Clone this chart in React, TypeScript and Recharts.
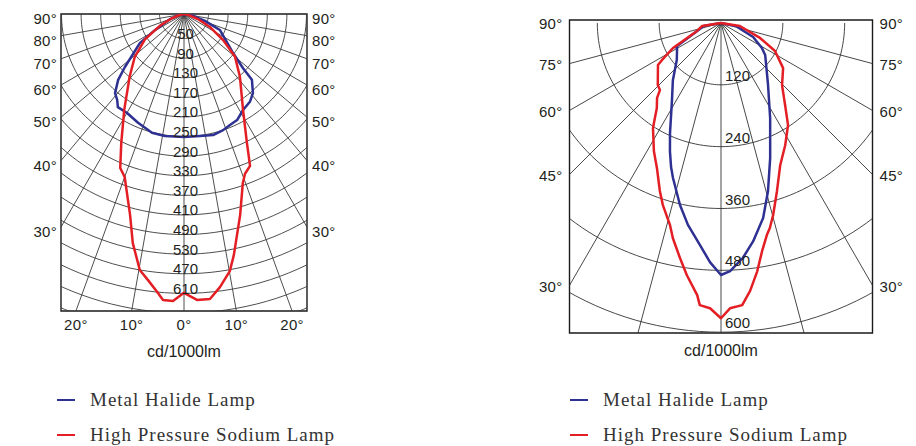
import React from 'react';
import { ComposedChart, Line, Scatter, XAxis, YAxis, ReferenceArea, Legend } from 'recharts';

// ---------------- data ----------------
const LAMP_NAMES = ['Metal Halide Lamp', 'High Pressure Sodium Lamp'];
const MH_COLOR = '#2E3192';
const HPS_COLOR = '#E31E24';

// Left diagram (angle from nadir in degrees, negative = left; intensity in cd/1000lm)
const leftMhAngles = [-90, -78, -70, -61, -56.6, -48.1, -45, -41.1, -37.9, -35.4, -29.9, -22.9, -15.1, -8.9, 0, 7.5, 13.5, 18.6, 22.5, 26.6, 31.6, 36.9, 41.1, 45.9, 47.5, 51.5, 58, 66, 72, 80, 90];
const leftMhValues = [0, 10, 30, 68, 108, 162, 190, 214, 222, 233, 233, 241, 251, 252, 251, 251, 254, 250, 245, 242, 230, 224, 214, 193, 163, 128, 100, 80, 45, 15, 0];
const leftHpsAngles = [-90, -78, -70, -64, -57, -49, -41, -32, -26, -22.5, -20, -17.7, -15, -12.6, -9.8, -7.7, -5.5, -4.2, -2.2, 0, 2.6, 5.2, 7.5, 10.1, 11.7, 15.6, 19.2, 20.9, 23.5, 26, 31.6, 41.6, 50, 56.3, 63.4, 70, 78, 90];
const leftHpsValues = [0, 10, 28, 55, 95, 133, 169, 230, 292, 340, 354, 383, 425, 479, 530, 548, 570, 585, 586, 569, 584, 584, 562, 533, 502, 426, 365, 349, 338, 293, 230, 172, 136, 96, 59, 30, 10, 0];
const leftArcValues = [50, 90, 130, 170, 210, 250, 290, 330, 370, 410, 450, 490, 530, 570, 610, 650];
const leftArcLabels = ['50', '90', '130', '170', '210', '250', '290', '330', '370', '410', '490', '530', '470', '610'];
const leftRayAngles = [-80, -70, -60, -50, -40, -30, -20, -10, 0, 10, 20, 30, 40, 50, 60, 70, 80];
const leftSideTickAngles = [90, 80, 70, 60, 50, 40, 30];
const leftBottomTickAngles = [-20, -10, 0, 10, 20];

// Right diagram
const rightMhAngles = [-90, -80, -71.6, -62, -60.4, -50, -40.1, -32.5, -24.9, -21.7, -19.1, -17.2, -12.7, -9.3, -5.4, -2.6, 0, 2.1, 5.3, 8.4, 12.2, 15.6, 20, 27.3, 37.2, 54, 58.6, 66.4, 78, 90];
const rightMhValues = [0, 34, 48, 100, 98, 112, 145, 177, 235, 268, 296, 315, 362, 397, 433, 465, 489, 482, 458, 428, 387, 339, 279, 208, 151, 106, 93, 68, 30, 0];
const rightHpsAngles = [-90, -81, -71.6, -62.5, -57.9, -56.3, -45.5, -42.3, -40.5, -37, -34.8, -32.9, -27.6, -23.8, -20, -17.7, -14.2, -12.6, -9.9, -7.7, -5, -4.3, -2.2, 0, 1.8, 4.3, 6.2, 8.3, 10.2, 12.2, 13.4, 15.2, 18.4, 22.6, 27.7, 33.3, 38, 44.5, 54, 62.6, 69, 81, 90];
const rightHpsValues = [0, 37, 49, 105, 135, 147, 172, 176, 191, 207, 225, 243, 281, 308, 347, 371, 404, 428, 463, 494, 530, 549, 554, 573, 554, 549, 523, 487, 450, 421, 409, 386, 344, 299, 268, 237, 202, 169, 149, 118, 81, 37, 0];
const rightArcValues = [120, 240, 360, 480, 600];
const rightArcLabels = ['120', '240', '360', '480', '600'];
const rightRayAngles = [-75, -60, -45, -30, -15, 0, 15, 30, 45, 60, 75];
const rightSideTickAngles = [90, 75, 60, 45, 30];

const UNIT_LABEL = 'cd/1000lm';

// ---------------- helpers ----------------
const RAD = Math.PI / 180;
const toXY = (deg: number, v: number) => ({ x: v * Math.sin(deg * RAD), y: -v * Math.cos(deg * RAD) });
const curve = (angles: number[], values: number[]) => angles.map((a, i) => toXY(a, values[i]));
const arcPoints = (v: number) => {
  const pts: { x: number; y: number }[] = [];
  for (let a = -90; a <= 90; a += 2) pts.push(toXY(a, v));
  return pts;
};
const rayPoints = (deg: number) => [toXY(deg, 0), toXY(deg, 2000)];

const SANS = "'Liberation Sans', Arimo, Arial, sans-serif";
const SERIF = "'Liberation Serif', 'Times New Roman', serif";
const TEXT_COLOR = '#231F20';

type Cfg = {
  left: number;
  width: number;
  height: number;
  margin: { top: number; right: number; bottom: number; left: number };
  leftAxisWidth: number;
  rightAxisWidth: number;
  xAxisHeight: number;
  xDomain: [number, number];
  yDomain: [number, number];
  arcValues: number[];
  arcLabels: string[];
  arcAnchor: 'middle' | 'start';
  arcDx: number;
  arcDy: number;
  rayAngles: number[];
  sideTickAngles: number[];
  sideDy: number;
  sideGapL: number;
  sideGapR: number;
  bottomTickAngles: number[];
  unitDy: number;
  mhAngles: number[];
  mhValues: number[];
  hpsAngles: number[];
  hpsValues: number[];
  legendLeft: number;
  legendTop: number;
  gridColor: string;
};

const renderLegend = (props: any) => {
  const payload: any[] = props.payload || [];
  const items = LAMP_NAMES.map((n) => payload.find((p) => p.value === n)).filter(Boolean);
  return (
    <div style={{ fontFamily: SERIF, fontSize: 19, letterSpacing: 1, color: '#333', lineHeight: '35px' }}>
      {items.map((it: any) => (
        <div key={it.value} style={{ display: 'flex', alignItems: 'center', height: 35 }}>
          <span style={{ display: 'inline-block', width: 18, height: 2, background: it.color, marginRight: 15 }} />
          <span>{it.value}</span>
        </div>
      ))}
    </div>
  );
};

function PolarPanel({ cfg }: { cfg: Cfg }) {
  const halfW = cfg.xDomain[1];
  const depth = -cfg.yDomain[0];
  const sideTicks = cfg.sideTickAngles.map((a) => -halfW / Math.tan(a * RAD));
  const sideLabels = cfg.sideTickAngles.map((a) => `${a}°`);
  const bottomTicks = cfg.bottomTickAngles.map((a) => depth * Math.tan(a * RAD));
  const bottomLabels = cfg.bottomTickAngles.map((a) => `${Math.abs(a)}°`);
  const labelPoints = cfg.arcLabels.map((l, i) => ({ x: 0, y: -cfg.arcValues[i], label: l }));
  const textStyle = { fontFamily: SANS, fontSize: 15, fill: TEXT_COLOR, letterSpacing: 0.3 } as const;

  return (
    <div style={{ position: 'absolute', left: cfg.left, top: 0 }}>
      <ComposedChart width={cfg.width} height={cfg.height} margin={cfg.margin}>
        <XAxis
          type="number"
          dataKey="x"
          domain={cfg.xDomain}
          allowDataOverflow
          ticks={bottomTicks}
          interval={0}
          height={cfg.xAxisHeight}
          axisLine={false}
          tickLine={false}
          tickSize={0}
          tickMargin={0}
          tick={(p: any) => (
            <text x={p.x} y={p.y + 19} textAnchor="middle" style={textStyle}>
              {bottomLabels[p.index]}
            </text>
          )}
          label={{
            content: (p: any) => (
              <text
                x={p.viewBox.x + p.viewBox.width / 2}
                y={p.viewBox.y + cfg.unitDy}
                textAnchor="middle"
                style={{ fontFamily: SANS, fontSize: 16, fill: TEXT_COLOR }}
              >
                {UNIT_LABEL}
              </text>
            ),
          }}
        />
        <YAxis
          yAxisId="l"
          type="number"
          dataKey="y"
          domain={cfg.yDomain}
          allowDataOverflow
          ticks={sideTicks}
          interval={0}
          width={cfg.leftAxisWidth}
          axisLine={false}
          tickLine={false}
          tickSize={0}
          tickMargin={0}
          tick={(p: any) => (
            <text x={p.x - cfg.sideGapL} y={p.y + cfg.sideDy} textAnchor="end" style={textStyle}>
              {sideLabels[p.index]}
            </text>
          )}
        />
        <YAxis
          yAxisId="r"
          orientation="right"
          type="number"
          domain={cfg.yDomain}
          allowDataOverflow
          ticks={sideTicks}
          interval={0}
          width={cfg.rightAxisWidth}
          axisLine={false}
          tickLine={false}
          tickSize={0}
          tickMargin={0}
          tick={(p: any) => (
            <text x={p.x + cfg.sideGapR} y={p.y + cfg.sideDy} textAnchor="start" style={textStyle}>
              {sideLabels[p.index]}
            </text>
          )}
        />
        {cfg.arcValues.map((v) => (
          <Line
            key={`arc-${v}`}
            yAxisId="l"
            data={arcPoints(v)}
            dataKey="y"
            stroke={cfg.gridColor}
            strokeWidth={0.9}
            dot={false}
            activeDot={false}
            legendType="none"
            isAnimationActive={false}
          />
        ))}
        {cfg.rayAngles.map((a) => (
          <Line
            key={`ray-${a}`}
            yAxisId="l"
            data={rayPoints(a)}
            dataKey="y"
            stroke={cfg.gridColor}
            strokeWidth={0.9}
            dot={false}
            activeDot={false}
            legendType="none"
            isAnimationActive={false}
          />
        ))}
        <ReferenceArea
          yAxisId="l"
          x1={cfg.xDomain[0]}
          x2={cfg.xDomain[1]}
          y1={cfg.yDomain[0]}
          y2={cfg.yDomain[1]}
          fill="none"
          stroke="#1a1a1a"
          strokeWidth={1.4}
          ifOverflow="visible"
        />
        <Line
          yAxisId="l"
          name={LAMP_NAMES[0]}
          data={curve(cfg.mhAngles, cfg.mhValues)}
          dataKey="y"
          stroke={MH_COLOR}
          strokeWidth={2.5}
          strokeLinejoin="round"
          dot={false}
          activeDot={false}
          isAnimationActive={false}
        />
        <Line
          yAxisId="l"
          name={LAMP_NAMES[1]}
          data={curve(cfg.hpsAngles, cfg.hpsValues)}
          dataKey="y"
          stroke={HPS_COLOR}
          strokeWidth={2.5}
          strokeLinejoin="round"
          dot={false}
          activeDot={false}
          isAnimationActive={false}
        />
        <Scatter
          yAxisId="l"
          data={labelPoints}
          dataKey="y"
          legendType="none"
          isAnimationActive={false}
          shape={(p: any) => (
            <text x={p.cx + cfg.arcDx} y={p.cy + cfg.arcDy} textAnchor={cfg.arcAnchor} style={{ ...textStyle, letterSpacing: 0 }}>
              {p.payload.label}
            </text>
          )}
        />
        <Legend
          layout="vertical"
          align="center"
          verticalAlign="middle"
          wrapperStyle={{ left: cfg.legendLeft, top: cfg.legendTop, width: 360, height: 72 }}
          content={renderLegend}
        />
      </ComposedChart>
    </div>
  );
}

const leftCfg: Cfg = {
  left: 0,
  width: 458,
  height: 446,
  margin: { top: 14, right: 101, bottom: 105, left: 11 },
  leftAxisWidth: 50,
  rightAxisWidth: 50,
  xAxisHeight: 30,
  xDomain: [-251, 251],
  yDomain: [-606, 0],
  arcValues: leftArcValues,
  arcLabels: leftArcLabels,
  arcAnchor: 'middle',
  arcDx: 1.5,
  arcDy: 0.5,
  rayAngles: leftRayAngles,
  sideTickAngles: leftSideTickAngles,
  sideDy: 10,
  sideGapL: 4,
  sideGapR: 5,
  bottomTickAngles: leftBottomTickAngles,
  unitDy: 46,
  mhAngles: leftMhAngles,
  mhValues: leftMhValues,
  hpsAngles: leftHpsAngles,
  hpsValues: leftHpsValues,
  legendLeft: 57,
  legendTop: 382,
  gridColor: '#3a3a3a',
};

const rightCfg: Cfg = {
  left: 458,
  width: 458,
  height: 446,
  margin: { top: 20, right: 3.5, bottom: 83, left: 61.5 },
  leftAxisWidth: 50,
  rightAxisWidth: 40,
  xAxisHeight: 30,
  xDomain: [-294, 294],
  yDomain: [-601.6, 5.8],
  arcValues: rightArcValues,
  arcLabels: rightArcLabels,
  arcAnchor: 'start',
  arcDx: 4,
  arcDy: -4,
  rayAngles: rightRayAngles,
  sideTickAngles: rightSideTickAngles,
  sideDy: 6.5,
  sideGapL: 7,
  sideGapR: 7,
  bottomTickAngles: [],
  unitDy: 22.5,
  mhAngles: rightMhAngles,
  mhValues: rightMhValues,
  hpsAngles: rightHpsAngles,
  hpsValues: rightHpsValues,
  legendLeft: 112,
  legendTop: 382,
  gridColor: '#333333',
};

export default function App() {
  return (
    <div style={{ position: 'absolute', left: 0, top: 0, width: 916, height: 446, background: '#fff', overflow: 'hidden' }}>
      <PolarPanel cfg={leftCfg} />
      <PolarPanel cfg={rightCfg} />
    </div>
  );
}
